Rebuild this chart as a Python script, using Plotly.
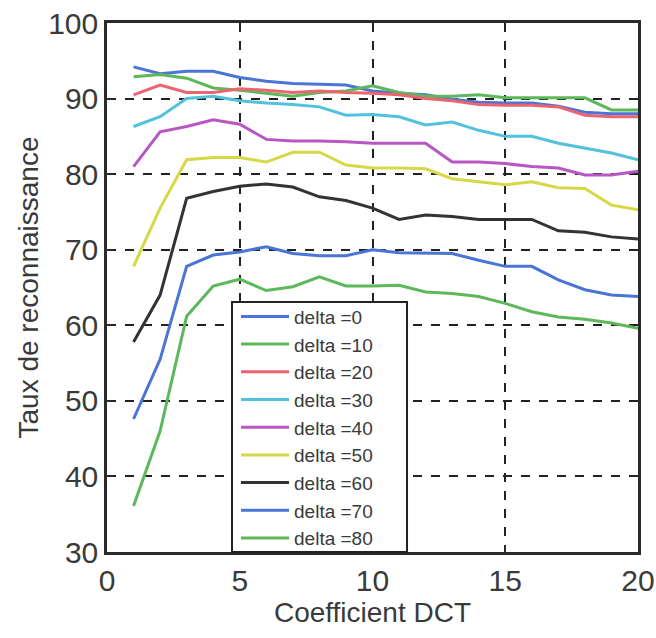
import plotly.graph_objects as go

x_coef = list(range(1, 21))

delta0 = [94.2, 93.3, 93.6, 93.6, 92.8, 92.3, 92.0, 91.9, 91.8, 91.0, 90.7, 90.5, 89.9, 89.5, 89.4, 89.4, 89.0, 88.2, 88.0, 88.0]
delta10 = [92.9, 93.2, 92.7, 91.4, 91.1, 90.7, 90.3, 90.8, 91.0, 91.7, 90.8, 90.3, 90.3, 90.5, 90.1, 90.1, 90.1, 90.1, 88.5, 88.5]
delta20 = [90.5, 91.8, 90.8, 90.8, 91.3, 91.1, 90.8, 91.0, 90.8, 90.7, 90.5, 90.0, 89.7, 89.2, 89.1, 89.1, 88.9, 87.8, 87.6, 87.6]
delta30 = [86.3, 87.6, 90.0, 90.3, 89.7, 89.4, 89.2, 88.9, 87.8, 87.9, 87.6, 86.5, 86.9, 85.8, 85.0, 85.0, 84.1, 83.5, 82.8, 81.9]
delta40 = [81.0, 85.6, 86.3, 87.2, 86.6, 84.6, 84.4, 84.4, 84.3, 84.1, 84.1, 84.1, 81.6, 81.6, 81.4, 81.0, 80.8, 79.9, 79.9, 80.4]
delta50 = [67.8, 75.5, 81.9, 82.2, 82.2, 81.6, 82.9, 82.9, 81.2, 80.8, 80.8, 80.7, 79.4, 79.0, 78.6, 79.0, 78.2, 78.1, 75.9, 75.3]
delta60 = [57.8, 64.0, 76.8, 77.7, 78.4, 78.7, 78.3, 77.0, 76.5, 75.5, 74.0, 74.6, 74.4, 74.0, 74.0, 74.0, 72.5, 72.3, 71.7, 71.4]
delta70 = [47.6, 55.5, 67.8, 69.3, 69.7, 70.4, 69.5, 69.2, 69.2, 70.0, 69.6, 69.6, 69.5, 68.6, 67.8, 67.8, 66.0, 64.7, 64.0, 63.8]
delta80 = [36.1, 46.0, 61.2, 65.2, 66.1, 64.6, 65.1, 66.4, 65.2, 65.2, 65.3, 64.4, 64.2, 63.8, 62.9, 61.8, 61.1, 60.8, 60.3, 59.6]

series_names = ["delta =0", "delta =10", "delta =20", "delta =30", "delta =40",
                "delta =50", "delta =60", "delta =70", "delta =80"]
series_values = [delta0, delta10, delta20, delta30, delta40, delta50, delta60, delta70, delta80]
series_colors = ["#4a74d6", "#5cb85a", "#ec6470", "#52c2dc", "#b856c4",
                 "#d6d846", "#333333", "#4a74d6", "#5cb85a"]

x_ticks = [0, 5, 10, 15, 20]
y_ticks = [30, 40, 50, 60, 70, 80, 90, 100]

fig = go.Figure()
for name, vals, col in zip(series_names, series_values, series_colors):
    fig.add_trace(go.Scatter(x=x_coef, y=vals, mode="lines", name=name,
                             line=dict(color=col, width=3)))

axis_common = dict(
    showline=True, mirror=True, linecolor="#2a2a2a", linewidth=2.5,
    showgrid=True, gridcolor="#222222", griddash="dash", gridwidth=1.5,
    zeroline=False, ticks="inside", ticklen=6, tickcolor="#2a2a2a", tickwidth=1.5,
    tickfont=dict(family="Liberation Sans, Arial", size=30, color="#3a3a3a"),
    automargin=False,
)

# legend box drawn as a shape above the traces
fig.add_shape(type="rect", xref="paper", yref="paper",
              x0=0.2354, x1=0.565, y0=0.0, y1=0.4726,
              fillcolor="white", line=dict(color="#222222", width=2), layer="above")

fig.update_layout(
    width=656, height=638,
    margin=dict(l=107, r=18, t=23, b=86),
    paper_bgcolor="white", plot_bgcolor="white",
    font=dict(family="Liberation Sans, Arial", color="#3a3a3a"),
    xaxis=dict(range=[0, 20], tickvals=x_ticks,
               title=dict(text="Coefficient DCT", font=dict(size=28, color="#3a3a3a"), standoff=4),
               **axis_common),
    yaxis=dict(range=[30, 100], tickvals=y_ticks,
               title=dict(text="Taux de reconnaissance", font=dict(size=28, color="#3a3a3a"), standoff=2),
               **axis_common),
    legend=dict(x=0.243, y=0.481, xanchor="left", yanchor="top",
                bgcolor="rgba(0,0,0,0)", borderwidth=0,
                font=dict(family="Liberation Sans, Arial", size=19, color="#3a3a3a"),
                itemwidth=48, tracegroupgap=0),
    showlegend=True,
)

fig.write_html("out.html",
               config={"displayModeBar": False},
               post_script="document.body.style.margin='0';document.body.style.overflow='hidden';")
